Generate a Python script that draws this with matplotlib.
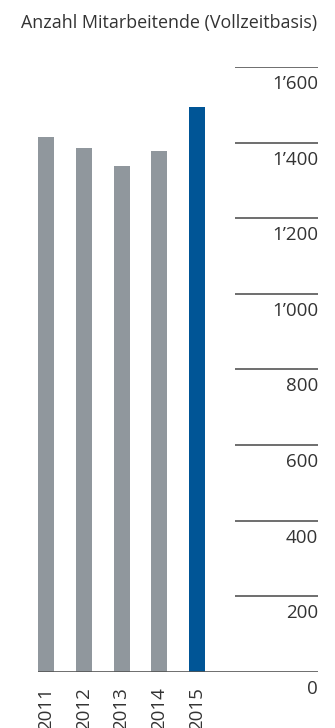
import matplotlib
matplotlib.use("Agg")
import matplotlib.pyplot as plt
from matplotlib.transforms import offset_copy

plt.rcParams['font.family'] = ['Open Sans', 'DejaVu Sans']

years = ["2011", "2012", "2013", "2014", "2015"]
staff = [1416, 1387, 1339, 1379, 1495]
bar_colors = ["#90979d", "#90979d", "#90979d", "#90979d", "#005596"]
grid_values = [200, 400, 600, 800, 1000, 1200, 1400, 1600]
grid_labels = ["200", "400", "600", "800", "1’000", "1’200", "1’400", "1’600"]

W, H = 335, 728
fig = plt.figure(figsize=(W / 100, H / 100), dpi=100)
ax = fig.add_axes([38 / W, (H - 672) / H, (318 - 38) / W, (672 - 67) / H])

x = list(range(len(years)))
ax.bar(x, staff, width=0.424, color=bar_colors, zorder=2)

xmin, xmax = -0.212, 7.205
ax.set_xlim(xmin, xmax)
ax.set_ylim(0, 1600)
ax.axis("off")

text_col = "#333333"
# baseline across the whole plot, short grid strokes on the right
ax.hlines(0, xmin, xmax, color="#555555", lw=1.2, zorder=3)
ax.hlines(grid_values, 5.0, xmax, color="#555555", lw=1.2)

below = offset_copy(ax.transData, fig=fig, x=0, y=-17, units="dots")
for v, lab in zip(grid_values, grid_labels):
    ax.text(xmax, v, lab, transform=below, ha="right", va="center",
            fontsize=13.5, color=text_col)
ax.text(xmax, 0, "0", transform=below, ha="right", va="center",
        fontsize=13.5, color=text_col)

yr = offset_copy(ax.transData, fig=fig, x=0, y=-15, units="dots")
for xi, y in zip(x, years):
    ax.text(xi, 0, y, transform=yr, rotation=90, ha="center", va="top",
            fontsize=13.5, color=text_col)

fig.text(317 / W, 1 - 23 / H, "Anzahl Mitarbeitende (Vollzeitbasis)",
         ha="right", va="center", fontsize=12.9, color=text_col)

fig.savefig("out.png", dpi=100)
